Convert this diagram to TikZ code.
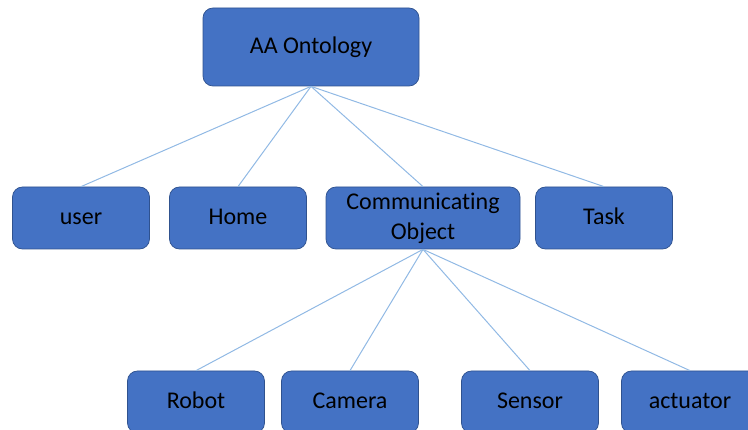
\documentclass[tikz,border=0pt]{standalone}
\usepackage{fontspec}
\setmainfont[Ligatures=NoCommon]{Carlito}
\usepackage{tikz}

\definecolor{boxblue}{RGB}{68,114,196}
\definecolor{boxedge}{RGB}{47,82,143}
\definecolor{linkblue}{RGB}{145,185,228}

\tikzset{
  conceptbox/.style={draw=boxedge, fill=boxblue, line width=0.75, rounded corners=10,
    minimum width=137, minimum height=62, inner sep=0, align=center,
    text height=16pt, text depth=2pt,
    font=\fontsize{24}{30}\selectfont},
  link/.style={draw=linkblue, line width=1}
}

\begin{document}
\begin{tikzpicture}[x=1pt,y=1pt,yscale=-1,xscale=1]
\useasboundingbox (0,0) rectangle (748,430);
\clip (0,0) rectangle (748,430);

% Text Node
\node [conceptbox, minimum width=216, minimum height=78] (ontology) at (311,47) {AA Ontology};
% Text Node
\node [conceptbox] (user) at (81,218) {user};
\node [conceptbox] (home) at (238,218) {Home};
\node [conceptbox, minimum width=194, text height=, text depth=] (comobj) at (423,218) {Communicating\\Object};
\node [conceptbox] (task) at (604,218) {Task};
% Text Node
\node [conceptbox] (robot) at (196,402) {Robot};
\node [conceptbox] (camera) at (350,402) {Camera};
\node [conceptbox] (sensor) at (530,402) {Sensor};
\node [conceptbox] (actuator) at (690,402) {actuator};

%Straight Lines
\draw [link] (ontology.south) -- (user.north) ;
\draw [link] (ontology.south) -- (home.north) ;
\draw [link] (ontology.south) -- (comobj.north) ;
\draw [link] (ontology.south) -- (task.north) ;
%Straight Lines
\draw [link] (comobj.south) -- (robot.north) ;
\draw [link] (comobj.south) -- (camera.north) ;
\draw [link] (comobj.south) -- (sensor.north) ;
\draw [link] (comobj.south) -- (actuator.north) ;

\end{tikzpicture}
\end{document}
